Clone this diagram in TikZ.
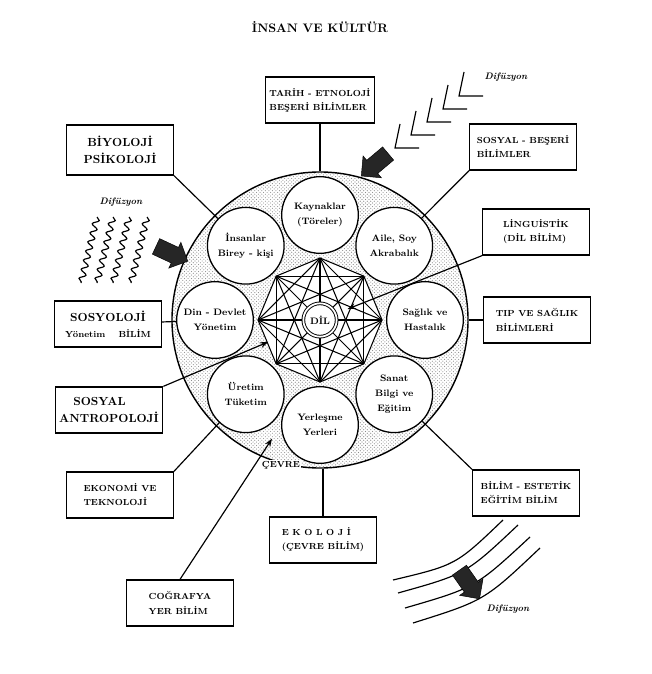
\documentclass[tikz,border=0pt]{standalone}
\usetikzlibrary{calc,patterns,shapes.arrows,decorations.pathmorphing,arrows.meta}

\begin{document}
\begin{tikzpicture}[x=0.03cm,y=-0.03cm,
    >={Stealth[length=7pt,width=5pt]},
    ring/.style={circle, draw, line width=1.2pt, minimum size=8.88cm, inner sep=0pt,
                 pattern=crosshatch dots, pattern color=black!45},
    topic/.style={circle, draw, line width=1.1pt, fill=white, minimum size=2.3cm, inner sep=0pt,
                  align=center, font=\fontsize{8}{12.5}\selectfont\bfseries},
    dilnode/.style={circle, draw, thick, double, double distance=1.5pt, fill=white,
                    minimum size=1cm, inner sep=0pt, font=\footnotesize\bfseries},
    box/.style={draw, line width=1.1pt, fill=white, minimum width=3.2cm, minimum height=1.38cm,
                align=left, font=\fontsize{7.5}{12}\selectfont\bfseries},
    bigbox/.style={box, align=center, font=\fontsize{10}{14}\selectfont\bfseries},
    conn/.style={line width=1pt},
    wave/.style={line width=1pt, decorate, decoration={snake, amplitude=2.6pt, segment length=8pt}},
    fatarrow/.style={single arrow, fill=black!85, draw=black, minimum height=1.05cm,
                     single arrow head extend=0.17cm, inner sep=0pt},
    difftext/.style={font=\footnotesize\bfseries\itshape}]
\useasboundingbox (0,0) rectangle (652,674);

\node[font=\fontsize{10.5}{12}\selectfont\bfseries] (title) at (320,27) {İNSAN VE KÜLTÜR};

% outer ring: ÇEVRE
\coordinate (c) at (320,320);
\node[ring] (cevre) at (c) {};

% the net of links round DİL
\foreach \i in {0,...,7}
    \coordinate (v\i) at ($(c)+(45*\i:62)$);
\fill[white] (v0) \foreach \i in {1,...,7}{ -- (v\i)} -- cycle;
\foreach \i in {0,...,7}
    \foreach \j in {\i,...,7}
        \draw[line width=0.9pt] (v\i) -- (v\j);

% the eight fields
\node[topic] (kay)  at ($(c)+(270:105)$) {Kaynaklar\\(Töreler)};
\node[topic] (aile) at ($(c)+(315:105)$) {Aile, Soy\\Akrabalık};
\node[topic] (sag)  at ($(c)+(0:105)$)   {Sağlık ve\\Hastalık};
\node[topic] (san)  at ($(c)+(45:105)$)  {Sanat\\Bilgi ve\\Eğitim};
\node[topic] (yer)  at ($(c)+(90:105)$)  {Yerleşme\\Yerleri};
\node[topic] (ure)  at ($(c)+(135:105)$) {Üretim\\Tüketim};
\node[topic] (din)  at ($(c)+(180:105)$) {Din - Devlet\\Yönetim};
\node[topic] (ins)  at ($(c)+(225:105)$) {İnsanlar\\Birey - kişi};
\node[dilnode] (dil) at (c) {DİL};

\node[font=\fontsize{7.5}{9}\selectfont\bfseries, fill=white, inner sep=1pt] (cevrelbl) at (281,465) {ÇEVRE};

% sciences
\node[box] (tarih)  at (320,100)   {TARİH - ETNOLOJİ\\BEŞERİ BİLİMLER};
\node[bigbox, minimum height=1.5cm] (biyo) at (120,150) {BİYOLOJİ\\PSİKOLOJİ};
\node[box] (sosbes) at (523,147)   {SOSYAL - BEŞERİ\\BİLİMLER};
\node[box] (ling)   at (536,232)   {LİNGUİSTİK\\(DİL BİLİM)};
\node[box] (tip)    at (537,320)   {TIP VE SAĞLIK\\BİLİMLERİ};
\node[bigbox] (sosyo) at (108,324) {SOSYOLOJİ\\{\fontsize{7.5}{9}\selectfont Yönetim\hspace{1.5em}BİLİM}};
\node[bigbox, align=left] (antro) at (109,410) {\hspace{1.2em}SOSYAL\\ANTROPOLOJİ};
\node[box] (ekon)   at (120,495)   {EKONOMİ VE\\TEKNOLOJİ};
\node[box] (ekol)   at (323,540)   {E K O L O J İ\\(ÇEVRE BİLİM)};
\node[box] (bilim)  at (526,493)   {BİLİM - ESTETİK\\EĞİTİM BİLİM};
\node[box] (cog)    at (180,603)   {COĞRAFYA\\YER BİLİM};

\coordinate (cevretip) at ($(c)+(112:128)$);

\draw[conn] (tarih) -- (cevre.north);
\draw[conn] (biyo.south east) -- (ins);
\draw[conn] (sosbes.south west) -- (aile);
\draw[conn,->] (ling.south west) -- ($(ling.south west)!0.83!(dil)$);
\draw[conn] (tip) -- (cevre.east);
\draw[conn] (sosyo) -- (din);
\draw[conn,->] (antro.north east) -- ($(antro.north east)!0.67!(dil)$);
\draw[conn] (ekon.north east) -- (ure);
\draw[conn] (ekol) -- (ekol |- cevre.south);
\draw[conn] (bilim.north west) -- (san);
\draw[conn,->] (cog.north) -- (cevretip);

% diffusion, upper left
\node[difftext] (difA) at (121,202) {Difüzyon};
\foreach \x in {97,113,129,147}
    \draw[wave] (\x,217) -- ++(-16,66);
\node[fatarrow, rotate=-25] (arrA) at (168,252) {\rule{0pt}{0.5cm}};

% diffusion, upper right
\node[difftext] (difB) at (506,77) {Difüzyon};
\foreach \i in {0,...,4}
    \draw[line width=1pt] ($(395,148)+(16*\i,-13*\i)+(5,-24)$) -- ++(-5,24) -- ++(24,0);
\node[fatarrow, rotate=-140] (arrB) at (378,162) {\rule{0pt}{0.5cm}};

% diffusion, lower right
\node[difftext] (difC) at (508,609) {Difüzyon};
\foreach \sx/\sy/\ex/\ey in {393/580/503/520, 398/593/518/525, 405/608/530/537, 413/623/540/548}
    \draw[line width=1pt] (\sx,\sy) .. controls ({(\sx+\ex)/2+8},{(\sy+\ey)/2+15}) .. (\ex,\ey);
\node[fatarrow, rotate=-55] (arrC) at (467,581) {\rule{0pt}{0.5cm}};
\end{tikzpicture}
\end{document}
